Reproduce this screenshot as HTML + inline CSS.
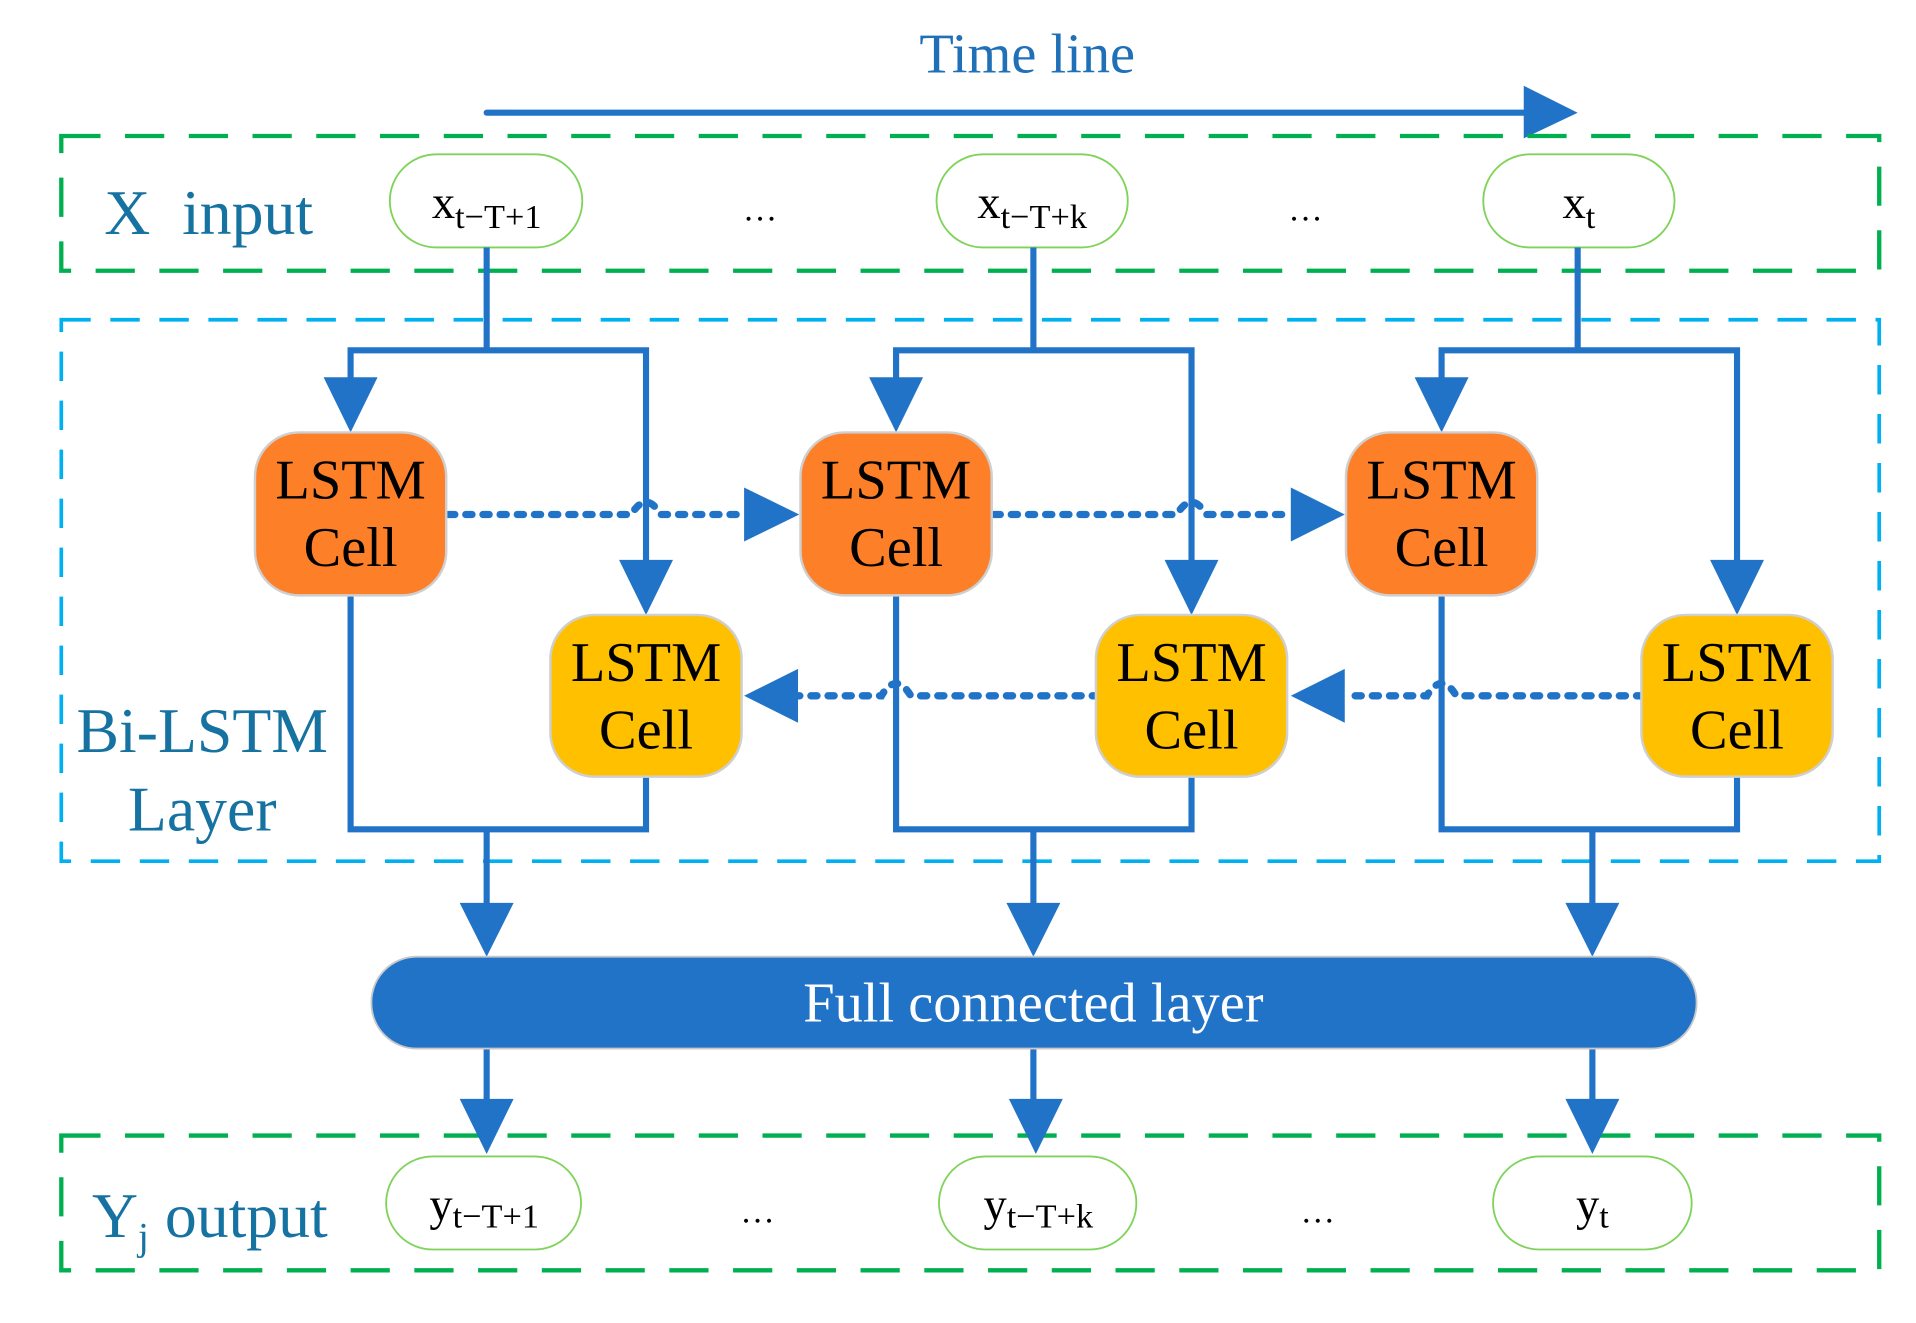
<!DOCTYPE html>
<html><head><meta charset="utf-8"><style>
html,body{margin:0;padding:0;background:#fff;}
svg{display:block;}
text{font-family:"Liberation Serif",serif;}
</style></head><body>
<svg width="1916" height="1323" viewBox="0 0 1563 1080" preserveAspectRatio="none" xmlns="http://www.w3.org/2000/svg">
<!-- title -->
<text x="838" y="59" font-size="46" fill="#2070b8" text-anchor="middle">Time line</text>
<line x1="397" y1="92" x2="1245" y2="92" stroke="#2173c8" stroke-width="5" stroke-linecap="round"/>
<polygon points="1243,70 1287,92 1243,113" fill="#2173c8"/>

<!-- boxes -->
<rect x="50" y="111" width="1483" height="110" fill="none" stroke="#00b050" stroke-width="3.5" stroke-dasharray="32,20"/>
<rect x="50" y="261" width="1483" height="442" fill="none" stroke="#00b0f0" stroke-width="3" stroke-dasharray="24,16"/>
<rect x="50" y="927" width="1483" height="110" fill="none" stroke="#00b050" stroke-width="3.5" stroke-dasharray="32,20"/>

<text x="85" y="191" font-size="52" fill="#1572a1" xml:space="preserve">X  input</text>
<text x="165" y="614" font-size="52" fill="#1572a1" text-anchor="middle">Bi-LSTM</text>
<text x="165" y="678" font-size="52" fill="#1572a1" text-anchor="middle">Layer</text>
<text x="75" y="1010" font-size="52" fill="#1572a1">Y<tspan font-size="32" dy="10">j</tspan><tspan dy="-10"> output</tspan></text>

<!-- input pills -->
<g fill="#fff" stroke="#7fd35a" stroke-width="1.5">
<rect x="318" y="126" width="157" height="76" rx="38"/>
<rect x="764" y="126" width="156" height="76" rx="38"/>
<rect x="1210" y="126" width="156" height="76" rx="38"/>
<rect x="315" y="944" width="159" height="76" rx="38"/>
<rect x="766" y="944" width="161" height="76" rx="38"/>
<rect x="1218" y="944" width="162" height="76" rx="38"/>
</g>
<g font-size="38" fill="#000" text-anchor="middle">
<text x="397" y="178">x<tspan font-size="28" dy="8">t−T+1</tspan></text>
<text x="842" y="178">x<tspan font-size="28" dy="8">t−T+k</tspan></text>
<text x="1288" y="178">x<tspan font-size="28" dy="8">t</tspan></text>
<text x="395" y="996">y<tspan font-size="28" dy="6">t−T+1</tspan></text>
<text x="847" y="996">y<tspan font-size="28" dy="6">t−T+k</tspan></text>
<text x="1299" y="996">y<tspan font-size="28" dy="6">t</tspan></text>
<text x="620" y="180" font-size="28">…</text>
<text x="1065" y="180" font-size="28">…</text>
<text x="618" y="998" font-size="28">…</text>
<text x="1075" y="998" font-size="28">…</text>
</g>

<!-- connectors -->
<g stroke="#2173c8" stroke-width="5" fill="none">
<path d="M397,202V286M286,310V286H527V460"/>
<path d="M843,202V286M731,310V286H972V460"/>
<path d="M1287,202V286M1176,310V286H1417V460"/>
<path d="M286,486V677H527V634M397,677V740"/>
<path d="M731,486V677H972V634M843,677V740"/>
<path d="M1176,486V677H1417V634M1299,677V740"/>
<path d="M397,856V900M843,856V900M1299,856V900"/>
</g>
<g fill="#2173c8">
<polygon points="264,308 308,308 286,353"/>
<polygon points="709,308 753,308 731,353"/>
<polygon points="1154,308 1198,308 1176,353"/>
<polygon points="505,457 549,457 527,502"/>
<polygon points="950,457 994,457 972,502"/>
<polygon points="1395,457 1439,457 1417,502"/>
<polygon points="375,737 419,737 397,781"/>
<polygon points="821,737 865,737 843,781"/>
<polygon points="1277,737 1321,737 1299,781"/>
<polygon points="375,897 419,897 397,942"/>
<polygon points="823,897 867,897 845,942"/>
<polygon points="1277,897 1321,897 1299,942"/>
<polygon points="607,398 652,420 607,442"/>
<polygon points="1053,398 1097,420 1053,442"/>
<polygon points="651,546 607,568 651,590"/>
<polygon points="1097,546 1053,568 1097,590"/>
</g>
<g stroke="#2173c8" stroke-width="6" fill="none" stroke-dasharray="5,9" stroke-linecap="round">
<path d="M366,420H515Q527,400 539,420H607"/>
<path d="M811,420H960Q972,400 984,420H1053"/>
<path d="M896,568H743Q731,548 719,568H651"/>
<path d="M1340,568H1188Q1176,548 1164,568H1097"/>
</g>

<!-- cells -->
<g stroke="#cfcfcf" stroke-width="2">
<rect x="208" y="353" width="156" height="133" rx="36" fill="#fd7f28"/>
<rect x="653" y="353" width="156" height="133" rx="36" fill="#fd7f28"/>
<rect x="1098" y="353" width="156" height="133" rx="36" fill="#fd7f28"/>
<rect x="449" y="502" width="156" height="132" rx="36" fill="#ffc000"/>
<rect x="894" y="502" width="156" height="132" rx="36" fill="#ffc000"/>
<rect x="1339" y="502" width="156" height="132" rx="36" fill="#ffc000"/>
</g>
<g font-size="46" fill="#000" text-anchor="middle">
<text x="286" y="407">LSTM</text><text x="286" y="462">Cell</text>
<text x="731" y="407">LSTM</text><text x="731" y="462">Cell</text>
<text x="1176" y="407">LSTM</text><text x="1176" y="462">Cell</text>
<text x="527" y="556">LSTM</text><text x="527" y="611">Cell</text>
<text x="972" y="556">LSTM</text><text x="972" y="611">Cell</text>
<text x="1417" y="556">LSTM</text><text x="1417" y="611">Cell</text>
</g>

<!-- FC -->
<rect x="303" y="781" width="1081" height="75" rx="37" fill="#2173c8" stroke="#c8c8c8" stroke-width="1.5"/>
<text x="843" y="834" font-size="46" fill="#fff" text-anchor="middle">Full connected layer</text>
</svg>
</body></html>
